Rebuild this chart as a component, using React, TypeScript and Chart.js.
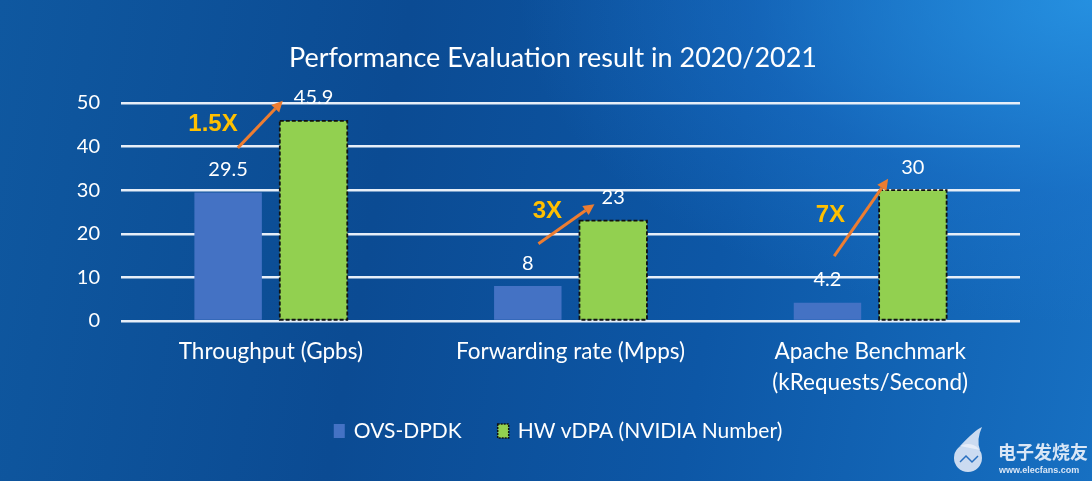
import React, { useEffect, useRef } from "react";
import { Chart, registerables } from "chart.js";

Chart.register(...registerables);

const title = "Performance Evaluation result in 2020/2021";
const categories: (string | string[])[] = [
  "Throughput (Gpbs)",
  "Forwarding rate (Mpps)",
  ["Apache Benchmark", "(kRequests/Second)"],
];
const ovsDpdk = [29.5, 8, 4.2];
const hwVdpa = [45.9, 23, 30];
const seriesNames = ["OVS-DPDK", "HW vDPA (NVIDIA Number)"];
const speedupLabels = ["1.5X", "3X", "7X"];
// arrow tail / head in data units (value axis)
const arrowFrom = [39.7, 17.7, 14.9];
const arrowTo = [50.5, 26.8, 32.6];
const speedupAt = [45, 25.2, 24.3];
const yTicks = [0, 10, 20, 30, 40, 50];

const FONT = "Lato, 'Open Sans', sans-serif";
const BLUE = "#4472C4";
const GREEN = "#92D050";

export default function App() {
  const ref = useRef<HTMLCanvasElement>(null);
  useEffect(() => {
    const canvas = ref.current!;
    const labelsPlugin = {
      id: "extras",
      afterDatasetsDraw(chart: any) {
        const ctx = chart.ctx;
        // dashed border on green bars
        const m1 = chart.getDatasetMeta(1);
        ctx.save();
        ctx.setLineDash([4, 2]);
        ctx.lineWidth = 1.8;
        ctx.strokeStyle = "#111";
        m1.data.forEach((b: any) => {
          const w = b.width;
          ctx.strokeRect(b.x - w / 2, b.y, w, b.base - b.y);
        });
        ctx.restore();
        // value labels
        ctx.save();
        ctx.fillStyle = "#ffffff";
        ctx.font = `20px ${FONT}`;
        ctx.textAlign = "center";
        ctx.textBaseline = "middle";
        [0, 1].forEach((di) => {
          const meta = chart.getDatasetMeta(di);
          const data = chart.data.datasets[di].data;
          meta.data.forEach((b: any, i: number) => {
            ctx.fillText(String(data[i]), b.x, b.y - 23);
          });
        });
        ctx.restore();
      },
      afterDraw(chart: any) {
        const ctx = chart.ctx;
        const xs = chart.scales.x;
        const ys = chart.scales.y;
        const midX = (xs.left + xs.right) / 2;
        const catW = xs.width / categories.length;

        // title
        ctx.save();
        ctx.fillStyle = "#ffffff";
        ctx.font = `27px ${FONT}`;
        ctx.textAlign = "center";
        ctx.textBaseline = "middle";
        ctx.fillText(title, midX - 17.5, 58);
        ctx.restore();

        const tailOff = [-0.11, -0.107, -0.12];
        const headOff = [0.04, 0.08, 0.06];
        const lblOff = [-0.193, -0.077, -0.133];
        ctx.save();
        for (let i = 0; i < categories.length; i++) {
          const cx = xs.getPixelForValue(i);
          const x1 = cx + tailOff[i] * catW;
          const y1 = ys.getPixelForValue(arrowFrom[i]);
          const x2 = cx + headOff[i] * catW;
          const y2 = ys.getPixelForValue(arrowTo[i]);
          const ang = Math.atan2(y2 - y1, x2 - x1);
          const hl = 11;
          const bx = x2 - hl * Math.cos(ang);
          const by = y2 - hl * Math.sin(ang);
          ctx.strokeStyle = "#ED7D31";
          ctx.fillStyle = "#ED7D31";
          ctx.lineWidth = 3;
          ctx.beginPath();
          ctx.moveTo(x1, y1);
          ctx.lineTo(bx, by);
          ctx.stroke();
          ctx.beginPath();
          ctx.moveTo(x2, y2);
          ctx.lineTo(bx + 5.5 * Math.sin(ang), by - 5.5 * Math.cos(ang));
          ctx.lineTo(bx - 5.5 * Math.sin(ang), by + 5.5 * Math.cos(ang));
          ctx.closePath();
          ctx.fill();
          ctx.fillStyle = "#FFC000";
          ctx.font = "bold 24px 'Liberation Sans', Arial, sans-serif";
          ctx.textAlign = "center";
          ctx.textBaseline = "middle";
          ctx.fillText(speedupLabels[i], cx + lblOff[i] * catW, ys.getPixelForValue(speedupAt[i]));
        }
        ctx.restore();

        // legend (custom, centred like the reference)
        ctx.save();
        ctx.font = `21px ${FONT}`;
        ctx.textBaseline = "middle";
        ctx.textAlign = "left";
        const ly = 431;
        const box = 11;
        const gapBox = 9;
        const gapItem = 36;
        const widths = seriesNames.map((t) => ctx.measureText(t).width);
        const total = widths.reduce((a, w) => a + box + gapBox + w, 0) + gapItem;
        let lx = midX - 12.5 - total / 2;
        seriesNames.forEach((t, i) => {
          ctx.fillStyle = i === 0 ? BLUE : GREEN;
          ctx.fillRect(lx, ly - 7, box, 14);
          if (i === 1) {
            ctx.setLineDash([2, 1]);
            ctx.lineWidth = 1.5;
            ctx.strokeStyle = "#111";
            ctx.strokeRect(lx, ly - 7, box, 14);
            ctx.setLineDash([]);
          }
          lx += box + gapBox;
          ctx.fillStyle = "#ffffff";
          ctx.fillText(t, lx, ly);
          lx += widths[i] + gapItem;
        });
        ctx.restore();

        // watermark
        ctx.save();
        ctx.fillStyle = "rgba(235,240,250,0.85)";
        ctx.beginPath();
        ctx.arc(968, 458, 14, 0, Math.PI * 2);
        ctx.fill();
        ctx.beginPath();
        ctx.moveTo(960, 446);
        ctx.quadraticCurveTo(975, 430, 982, 427);
        ctx.quadraticCurveTo(976, 440, 980, 450);
        ctx.fill();
        ctx.strokeStyle = "#2a70c0";
        ctx.lineWidth = 1.5;
        ctx.beginPath();
        ctx.moveTo(960, 462);
        ctx.lineTo(966, 456);
        ctx.lineTo(972, 462);
        ctx.lineTo(978, 456);
        ctx.stroke();
        ctx.fillStyle = "rgba(240,244,252,0.9)";
        ctx.font = "bold 18px 'Noto Sans CJK SC', sans-serif";
        ctx.textAlign = "left";
        ctx.textBaseline = "middle";
        ctx.fillText("电子发烧友", 998, 452);
        ctx.font = "bold 9px 'Liberation Sans', sans-serif";
        ctx.fillText("www.elecfans.com", 999, 471);
        ctx.restore();
      },
    };

    const chart = new Chart(canvas, {
      type: "bar",
      data: {
        labels: categories,
        datasets: [
          {
            label: seriesNames[0],
            data: ovsDpdk,
            backgroundColor: BLUE,
            borderWidth: 0,
            categoryPercentage: 0.57,
            barPercentage: 0.79,
          },
          {
            label: seriesNames[1],
            data: hwVdpa,
            backgroundColor: GREEN,
            borderWidth: 0,
            categoryPercentage: 0.57,
            barPercentage: 0.79,
          },
        ],
      },
      options: {
        animation: false,
        responsive: false,
        maintainAspectRatio: false,
        layout: { padding: { left: 0, right: 72, top: 103, bottom: 0 } },
        plugins: {
          title: { display: false },
          legend: { display: false },
          tooltip: { enabled: false },
        },
        scales: {
          x: {
            grid: { display: false, drawTicks: false },
            border: { display: false },
            ticks: {
              color: "#ffffff",
              font: { family: FONT, size: 22.5, lineHeight: 1.35 },
              padding: 16,
              maxRotation: 0,
              autoSkip: false,
            },
            afterFit: (s: any) => {
              s.height = 160;
            },
          },
          y: {
            min: 0,
            max: 50,
            afterBuildTicks: (s: any) => {
              s.ticks = yTicks.map((v) => ({ value: v }));
            },
            grid: { color: "#e6eef8", lineWidth: 2.5, drawTicks: false },
            border: { display: false },
            ticks: {
              color: "#ffffff",
              font: { family: FONT, size: 20 },
              padding: 21,
            },
            afterFit: (s: any) => {
              s.width = 121;
            },
          },
        },
      },
      plugins: [labelsPlugin],
    });
    return () => chart.destroy();
  }, []);

  return (
    <div
      style={{
        position: "fixed",
        left: 0,
        top: 0,
        width: 1092,
        height: 481,
        background:
          "radial-gradient(ellipse 70% 90% at 100% 0%, rgba(40,150,230,0.85) 0%, rgba(30,120,210,0.4) 45%, rgba(20,90,170,0) 75%), linear-gradient(100deg, #0f58a0 0%, #0b4b93 35%, #0d57a6 65%, #1770c2 100%)",
      }}
    >
      <canvas ref={ref} width={1092} height={481} style={{ display: "block" }} />
    </div>
  );
}
